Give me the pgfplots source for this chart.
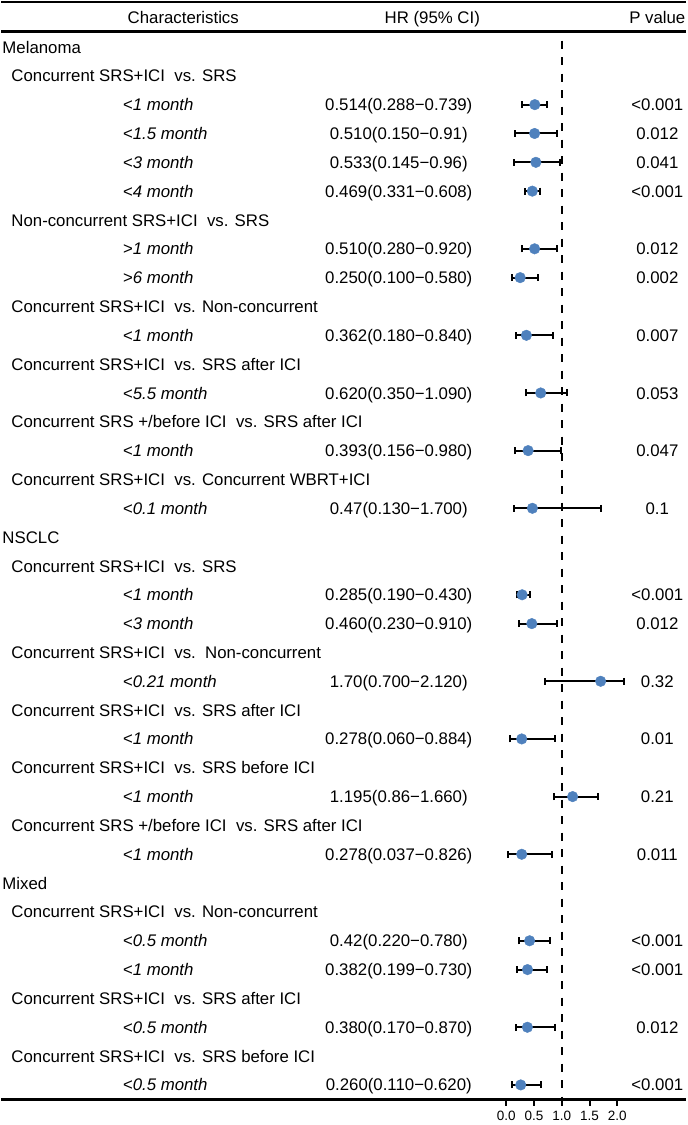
\documentclass[border=0pt]{standalone}
\usepackage{fontspec}
\setmainfont{Liberation Sans}
\usepackage{pgfplots}
\pgfplotsset{compat=1.18}
\usepackage{pgfplotstable}
\definecolor{ptblue}{RGB}{79,129,189}

\pgfplotstableread{
y hr lo hi
-3 0.514 0.288 0.739
-4 0.510 0.150 0.91
-5 0.533 0.145 0.96
-6 0.469 0.331 0.608
-8 0.510 0.280 0.920
-9 0.250 0.100 0.580
-11 0.362 0.180 0.840
-13 0.620 0.350 1.090
-15 0.393 0.156 0.980
-17 0.47 0.130 1.700
-20 0.285 0.190 0.430
-21 0.460 0.230 0.910
-23 1.70 0.700 2.120
-25 0.278 0.060 0.884
-27 1.195 0.86 1.660
-29 0.278 0.037 0.826
-32 0.42 0.220 0.780
-33 0.382 0.199 0.730
-35 0.380 0.170 0.870
-37 0.260 0.110 0.620
}\hrdata

\newcommand{\fsz}{\fontsize{16.8}{20}\selectfont}
\newcommand{\grp}[2]{\node[anchor=base west,inner sep=0pt,font=\fsz] at (axis cs:-9.081,-#1.21) {#2};}
\newcommand{\sub}[2]{\node[anchor=base west,inner sep=0pt,font=\fsz] at (axis cs:-8.919,-#1.21) {#2};}
\newcommand{\itm}[4]{%
  \node[anchor=base west,inner sep=0pt,font=\fsz\itshape] at (axis cs:-6.91,-#1.21) {#2};
  \node[anchor=base,inner sep=0pt,font=\fsz] at (axis cs:-1.937,-#1.21) {#3};
  \node[anchor=base,inner sep=0pt,font=\fsz] at (axis cs:2.721,-#1.21) {#4};}
\newcommand{\tk}[1]{\draw[black, line width=2pt] (axis cs:#1,-37.5) -- (axis cs:#1,-37.73);}

\begin{document}
\begin{tikzpicture}
\begin{axis}[
  scale only axis,
  width=685pt, height=1097.3pt,
  xmin=-9.099, xmax=3.243,
  ymin=-37.50, ymax=0.561,
  clip=false,
  axis x line*=bottom,
  axis y line=none,
  axis line style={line width=2.5pt},
  xtick={0,0.5,1,1.5,2},
  xticklabels={0.0,0.5,1.0,1.5,2.0},
  xtick align=outside,
  major tick length=6.5pt,
  xtick style={draw=black, line width=2pt},
  xticklabel shift=5pt,
  every x tick label/.append style={font=\fontsize{13.5}{15}\selectfont, inner sep=0pt},
]
% top line and header underline
\draw[line width=2.5pt] (axis cs:-9.099,0.561) -- (axis cs:3.243,0.561);
\draw[line width=2.5pt] (axis cs:-9.099,-0.469) -- (axis cs:3.243,-0.469);
\path (axis cs:-9.099,0.630) rectangle (axis cs:3.243,-38.39);
% tick stubs
\tk{0}\tk{0.5}\tk{1}\tk{1.5}\tk{2}

% headers
\node[anchor=base,inner sep=0pt,font=\fsz] at (axis cs:-5.820,-0.178) {Characteristics};
\node[anchor=base,inner sep=0pt,font=\fsz] at (axis cs:-1.333,-0.178) {HR (95\% CI)};
\node[anchor=base,inner sep=0pt,font=\fsz] at (axis cs:2.721,-0.178) {P value};

% reference line
\addplot[black, line width=2pt, dash pattern=on 8pt off 8.5pt] coordinates {(1,-0.78) (1,-37.5)};

% estimates with CI
\addplot[only marks, mark=*, mark size=5.3pt, mark options={ptblue, fill=ptblue},
  error bars/.cd, x dir=both, x explicit,
  error mark=|,
  error bar style={black, line width=2pt},
  error mark options={black, line width=2pt, mark size=3.5pt}]
  table[x=hr, y=y, x error plus expr=\thisrow{hi}-\thisrow{hr}, x error minus expr=\thisrow{hr}-\thisrow{lo}] {\hrdata};

% text
\grp{1}{Melanoma}
\sub{2}{Concurrent SRS+ICI\ \ vs. SRS}
\itm{3}{<1 month}{0.514(0.288−0.739)}{<0.001}
\itm{4}{<1.5 month}{0.510(0.150−0.91)}{0.012}
\itm{5}{<3 month}{0.533(0.145−0.96)}{0.041}
\itm{6}{<4 month}{0.469(0.331−0.608)}{<0.001}
\sub{7}{Non-concurrent SRS+ICI\ \ vs. SRS}
\itm{8}{>1 month}{0.510(0.280−0.920)}{0.012}
\itm{9}{>6 month}{0.250(0.100−0.580)}{0.002}
\sub{10}{Concurrent SRS+ICI\ \ vs. Non-concurrent}
\itm{11}{<1 month}{0.362(0.180−0.840)}{0.007}
\sub{12}{Concurrent SRS+ICI\ \ vs. SRS after ICI}
\itm{13}{<5.5 month}{0.620(0.350−1.090)}{0.053}
\sub{14}{Concurrent SRS +/before ICI\ \ vs. SRS after ICI}
\itm{15}{<1 month}{0.393(0.156−0.980)}{0.047}
\sub{16}{Concurrent SRS+ICI\ \ vs. Concurrent WBRT+ICI}
\itm{17}{<0.1 month}{0.47(0.130−1.700)}{0.1}
\grp{18}{NSCLC}
\sub{19}{Concurrent SRS+ICI\ \ vs. SRS}
\itm{20}{<1 month}{0.285(0.190−0.430)}{<0.001}
\itm{21}{<3 month}{0.460(0.230−0.910)}{0.012}
\sub{22}{Concurrent SRS+ICI\ \ vs.\ \ Non-concurrent}
\itm{23}{<0.21 month}{1.70(0.700−2.120)}{0.32}
\sub{24}{Concurrent SRS+ICI\ \ vs. SRS after ICI}
\itm{25}{<1 month}{0.278(0.060−0.884)}{0.01}
\sub{26}{Concurrent SRS+ICI\ \ vs. SRS before ICI}
\itm{27}{<1 month}{1.195(0.86−1.660)}{0.21}
\sub{28}{Concurrent SRS +/before ICI\ \ vs. SRS after ICI}
\itm{29}{<1 month}{0.278(0.037−0.826)}{0.011}
\grp{30}{Mixed}
\sub{31}{Concurrent SRS+ICI\ \ vs. Non-concurrent}
\itm{32}{<0.5 month}{0.42(0.220−0.780)}{<0.001}
\itm{33}{<1 month}{0.382(0.199−0.730)}{<0.001}
\sub{34}{Concurrent SRS+ICI\ \ vs. SRS after ICI}
\itm{35}{<0.5 month}{0.380(0.170−0.870)}{0.012}
\sub{36}{Concurrent SRS+ICI\ \ vs. SRS before ICI}
\itm{37}{<0.5 month}{0.260(0.110−0.620)}{<0.001}
\end{axis}
\end{tikzpicture}
\end{document}
